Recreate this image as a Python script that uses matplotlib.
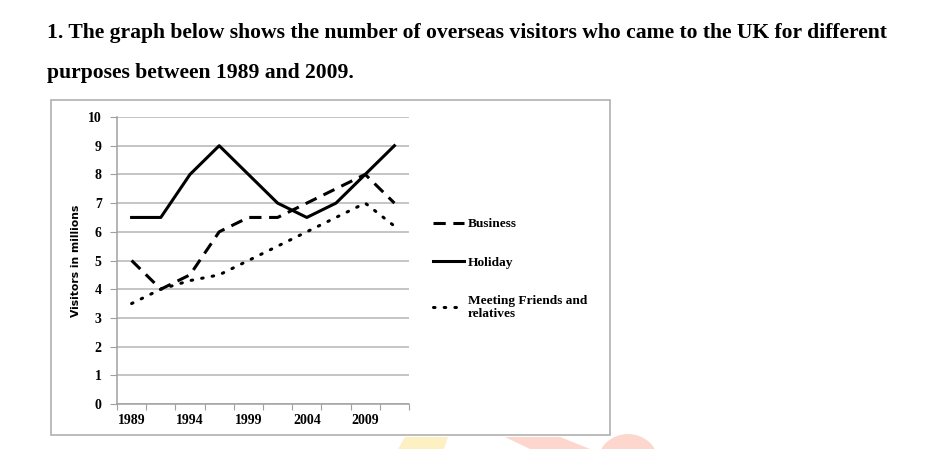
import numpy as np
import matplotlib.pyplot as plt
from matplotlib.patches import Rectangle, Polygon, Ellipse

# data
years = ['1989', '', '1994', '', '1999', '', '2004', '', '2009', '']
business = [5, 4, 4.5, 6, 6.5, 6.5, 7, 7.5, 8, 7]
holiday = [6.5, 6.5, 8, 9, 8, 7, 6.5, 7, 8, 9]
friends = [3.5, 4, 4.3, 4.5, 5, 5.5, 6, 6.5, 7, 6.2]

W, H = 940, 449
fig = plt.figure(figsize=(W / 100, H / 100), dpi=100)
serif = 'Liberation Serif'

# question text above the chart
fig.text(47 / W, 1 - 33 / H, '1. The graph below shows the number of overseas visitors who came to the UK for different',
         fontsize=15.6, fontweight='bold', family=serif, va='center', ha='left')
fig.text(47 / W, 1 - 73 / H, 'purposes between 1989 and 2009.',
         fontsize=15.6, fontweight='bold', family=serif, va='center', ha='left')

# grey frame round the pasted chart
fig.patches.append(Rectangle((51 / W, 1 - 435 / H), (610 - 51) / W, (435 - 100) / H,
                             transform=fig.transFigure, fill=False, edgecolor='#b0b0b0', lw=1.2))

# faint watermark pieces below the frame
wm = [
    Polygon([[398, 449], [405, 437], [448, 437], [444, 449]], closed=True, color='#fdf1c4'),
    Polygon([[505, 437], [560, 437], [590, 449], [530, 449]], closed=True, color='#fdd6cd'),
    Ellipse((628, 464), 62, 60, color='#fdd6cd'),
]
for p in wm:
    verts = p.get_verts()
    fig.patches.append(Polygon([[x / W, 1 - y / H] for x, y in verts], closed=True,
                               transform=fig.transFigure, color=p.get_facecolor(), lw=0))

ax = fig.add_axes([117 / W, 1 - 404 / H, 292 / W, 287 / H])
x = np.arange(len(business))

ax.plot(x, business, color='black', lw=2.2, ls=(0, (4, 2.5)), label='Business')
ax.plot(x, holiday, color='black', lw=2.2, label='Holiday')
ax.plot(x, friends, color='black', lw=2.2, ls=(0, (0.5, 3.0)), dash_capstyle='round',
        label='Meeting Friends and\nrelatives')

ax.set_xlim(-0.5, 9.5)
ax.set_ylim(0, 10)
ax.set_yticks(range(0, 11))
ax.set_yticklabels([str(v) for v in range(0, 11)], fontsize=10, fontweight='bold', family=serif)
ax.set_xticks(np.arange(-0.5, 10, 1))
ax.set_xticklabels([])
ax.set_xticks(x, minor=True)
ax.set_xticklabels(years, minor=True, fontsize=10, fontweight='bold', family=serif)
ax.tick_params(axis='x', which='minor', length=0, pad=7)
ax.tick_params(axis='x', which='major', length=4, color='#a0a0a0', direction='out')
ax.tick_params(axis='y', length=5, color='#a0a0a0', pad=6)
ax.grid(axis='y', color='#b5b5b5', lw=1.1)
ax.set_axisbelow(True)
for s in ['top', 'right']:
    ax.spines[s].set_visible(False)
for s in ['left', 'bottom']:
    ax.spines[s].set_color('#a0a0a0')
    ax.spines[s].set_linewidth(1.1)
ax.set_ylabel('Visitors in millions', fontsize=7.8, fontweight='bold', labelpad=5)

leg = fig.legend(loc='upper left', bbox_to_anchor=(421 / W, 1 - 206 / H), frameon=False,
                 prop={'family': serif, 'weight': 'bold', 'size': 9.6},
                 handlelength=2.3, handletextpad=0.3, labelspacing=1.95)

fig.savefig('out.png', dpi=100)
